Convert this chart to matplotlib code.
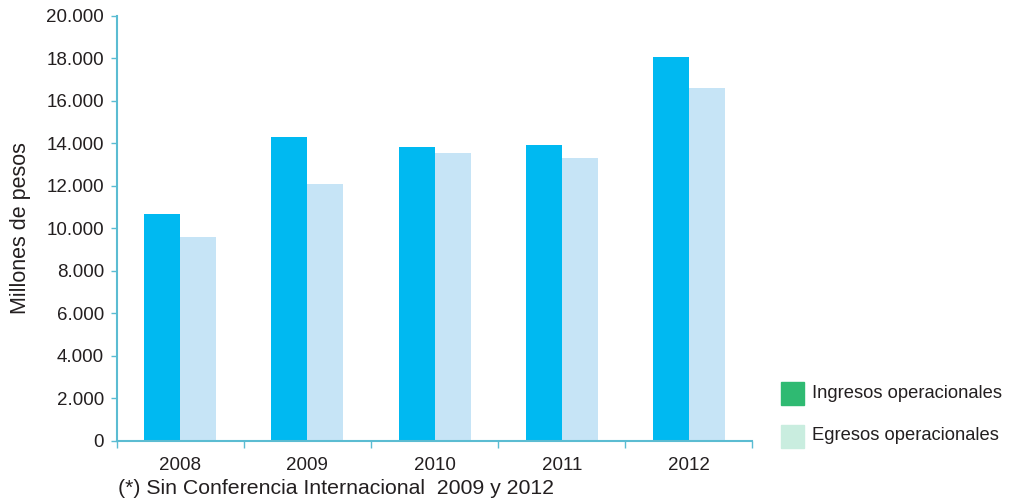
import matplotlib
matplotlib.use('Agg')
from matplotlib import pyplot as plt
from matplotlib.patches import Rectangle
import numpy as np

years = ['2008', '2009', '2010', '2011', '2012']
ingresos = [10670, 14300, 13810, 13915, 18030]
egresos = [9570, 12080, 13550, 13320, 16610]
yticks = [0, 2000, 4000, 6000, 8000, 10000, 12000, 14000, 16000, 18000, 20000]
ytick_labels = ['0', '2.000', '4.000', '6.000', '8.000', '10.000', '12.000',
                '14.000', '16.000', '18.000', '20.000']
legend_labels = ['Ingresos operacionales', 'Egresos operacionales']
footnote = '(*) Sin Conferencia Internacional  2009 y 2012'

plt.rcParams['font.family'] = ['Liberation Sans', 'DejaVu Sans']
txt = '#231f20'
axcol = '#5bbcd2'
bar1 = '#00b9f1'
bar2 = '#c6e4f6'
leg1 = '#2fba72'
leg2 = '#c9eddf'

fig = plt.figure(figsize=(10.10, 5.04), dpi=100)
ax = fig.add_axes([0.1155, 0.1256, 0.6295, 0.8434])

x = np.arange(len(years)) + 0.5
w = 0.283
ax.bar(x - w / 2, ingresos, width=w, color=bar1, zorder=2)
ax.bar(x + w / 2, egresos, width=w, color=bar2, zorder=2)

ax.set_xlim(0, len(years))
ax.set_ylim(0, 20000)
ax.set_yticks(yticks)
ax.set_yticklabels(ytick_labels, fontsize=13.5, color=txt)
ax.set_xticks(np.arange(len(years) + 1))
ax.set_xticklabels([])
ax.set_xticks(x, minor=True)
ax.set_xticklabels(years, minor=True, fontsize=13.5, color=txt)
ax.tick_params(axis='x', which='minor', length=0, pad=12)
ax.tick_params(axis='x', which='major', length=5, color=axcol, width=1)
ax.tick_params(axis='y', length=4, color=axcol, width=1, pad=5)

for s in ['top', 'right']:
    ax.spines[s].set_visible(False)
for s in ['left', 'bottom']:
    ax.spines[s].set_color(axcol)
    ax.spines[s].set_linewidth(1.5)

fig.text(21 / 1010, (504 - 228) / 504, 'Millones de pesos', fontsize=15.5,
         color=txt, rotation=90, va='center', ha='center')

# legend on the right
for i, (lab, col) in enumerate(zip(legend_labels, [leg1, leg2])):
    y0 = (504 - 405 - i * 42.5) / 504
    fig.add_artist(Rectangle((781 / 1010, y0), 23 / 1010, 23 / 504,
                             transform=fig.transFigure, color=col))
    fig.text(812 / 1010, y0 + 11.5 / 504, lab, fontsize=13.2, color=txt,
             va='center', ha='left')

fig.text(118 / 1010, (504 - 488) / 504, footnote, fontsize=15.3, color=txt,
         va='center', ha='left')

fig.savefig('out.png', dpi=100)
